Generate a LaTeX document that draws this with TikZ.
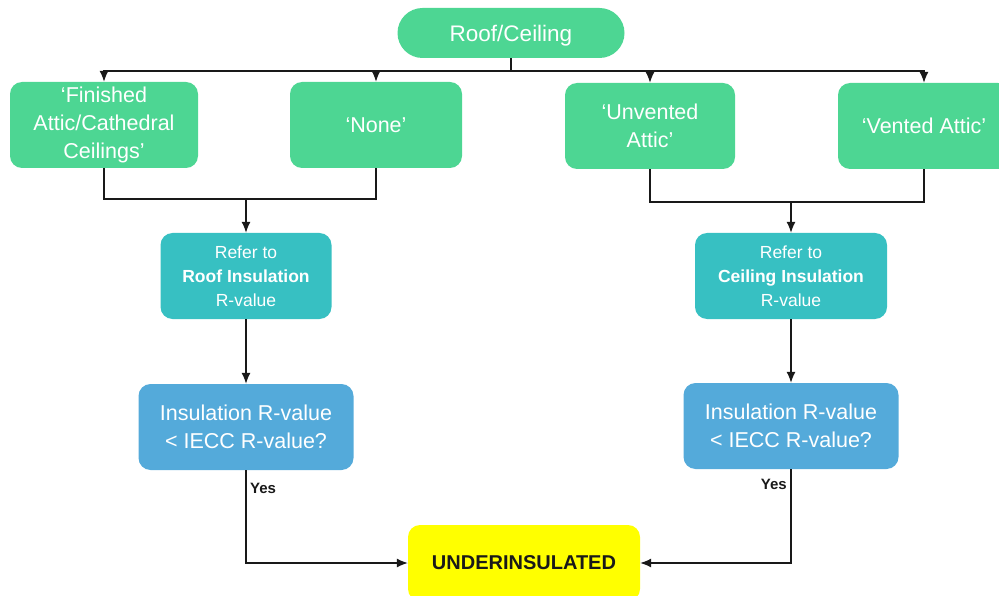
\documentclass[tikz,border=0pt]{standalone}
\usepackage{fontspec}
\setmainfont{Liberation Sans}
\usetikzlibrary{arrows.meta}
\definecolor{choicegreen}{HTML}{4DD693}
\definecolor{referteal}{HTML}{37C0C2}
\definecolor{checkblue}{HTML}{54AADA}
\definecolor{resultyellow}{HTML}{FFFF00}

\tikzset{
    choice/.style={fill=choicegreen, rounded corners=12pt, text=white, align=center,
        inner sep=0pt, minimum height=86pt, font=\fontsize{21.5}{28}\selectfont},
    refer/.style={fill=referteal, rounded corners=12pt, text=white, align=center,
        inner sep=0pt, minimum height=86pt, font=\fontsize{17.5}{24}\selectfont},
    check/.style={fill=checkblue, rounded corners=12pt, text=white, align=center,
        inner sep=0pt, minimum height=86pt, font=\fontsize{21.5}{28}\selectfont},
    result/.style={fill=resultyellow, rounded corners=12pt, text=black!90, align=center,
        inner sep=0pt, minimum height=76pt, font=\fontsize{20}{24}\selectfont\bfseries},
    yeslabel/.style={text=black!90, inner sep=0pt, font=\fontsize{15}{17}\selectfont\bfseries},
    line/.style={line width=1.2pt, black!90},
    arrow/.style={line, -{Latex[length=11pt, width=9pt]}}
}

\begin{document}
\begin{tikzpicture}[x=1pt, y=-1pt]
    \useasboundingbox (0,0) rectangle (999,596);

    \node(roof)[fill=choicegreen, rounded corners=25pt, text=white, inner sep=0pt,
        minimum width=227pt, minimum height=50pt, text height=17pt, text depth=0pt,
        font=\fontsize{22.5}{28}\selectfont] at (511,33) {Roof/Ceiling};

    \node(finished)[choice, minimum width=188pt] at (104,125) {`Finished\\Attic/Cathedral\\Ceilings'};
    \node(none)[choice, minimum width=172pt] at (376,125) {`None'};
    \node(unvented)[choice, minimum width=170pt] at (650,126) {`Unvented\\Attic'};
    \node(vented)[choice, minimum width=172pt] at (924,126) {`Vented Attic'};

    \node(referroof)[refer, minimum width=171pt] at (246,276) {Refer to\\\textbf{Roof Insulation}\\R-value};
    \node(referceil)[refer, minimum width=192pt] at (791,276) {Refer to\\\textbf{Ceiling Insulation}\\R-value};

    \node(checkroof)[check, minimum width=215pt] at (246,427) {Insulation R-value\\< IECC R-value?};
    \node(checkceil)[check, minimum width=215pt] at (791,426) {Insulation R-value\\< IECC R-value?};

    \node(under)[result, minimum width=232pt] at (524,563) {UNDERINSULATED};

    \node(yesroof)[yeslabel, anchor=west] at (250,488) {Yes};
    \node(yesceil)[yeslabel, anchor=east] at (787,484) {Yes};

    \coordinate(split) at (511,71);
    \coordinate(joinroof) at (246,199);
    \coordinate(joinceil) at (791,202);

    \draw[line] (roof) -- (split);
    \draw[arrow] (split) -| (finished);
    \draw[arrow] (split) -| (none);
    \draw[arrow] (split) -| (unvented);
    \draw[arrow] (split) -| (vented);

    \draw[line] (finished) |- (joinroof) -| (none);
    \draw[line] (unvented) |- (joinceil) -| (vented);
    \draw[arrow] (joinroof) -- (referroof);
    \draw[arrow] (joinceil) -- (referceil);

    \draw[arrow] (referroof) -- (checkroof);
    \draw[arrow] (referceil) -- (checkceil);

    \draw[arrow] (checkroof) |- (under);
    \draw[arrow] (checkceil) |- (under);
\end{tikzpicture}
\end{document}
